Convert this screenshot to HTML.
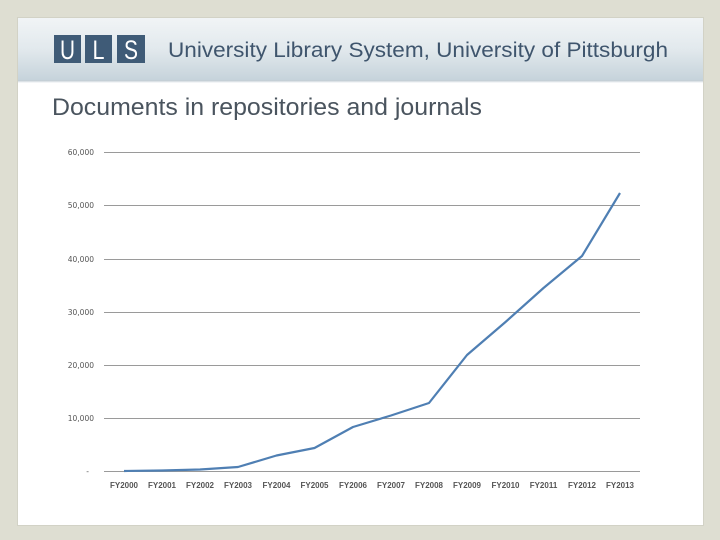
<!DOCTYPE html>
<html><head><meta charset="utf-8"><style>
html,body{margin:0;padding:0;background:#deded2;}
svg{display:block;}
</style></head><body>
<svg width="720" height="540" viewBox="0 0 720 540" xmlns="http://www.w3.org/2000/svg" font-family="Liberation Sans, sans-serif">
<defs>
<linearGradient id="hg" x1="0" y1="0" x2="0" y2="1">
<stop offset="0" stop-color="#f1f4f6"/>
<stop offset="0.5" stop-color="#e2e9ed"/>
<stop offset="1" stop-color="#c6d3db"/>
</linearGradient>
<linearGradient id="sh" x1="0" y1="0" x2="0" y2="1">
<stop offset="0" stop-color="#b9c6ce"/>
<stop offset="1" stop-color="#ffffff"/>
</linearGradient>
</defs>
<rect x="0" y="0" width="720" height="540" fill="#deded2"/>
<rect x="17" y="17" width="687" height="509" fill="#d2d2c6"/>
<rect x="18" y="18" width="685" height="507" fill="#ffffff"/>
<rect x="18" y="18" width="685" height="62" fill="url(#hg)"/>
<rect x="18" y="80" width="685" height="3" fill="url(#sh)"/>
<!-- ULS boxes -->
<rect x="54" y="35" width="27" height="28" fill="#3f5b77"/>
<rect x="85" y="35" width="27" height="28" fill="#3f5b77"/>
<rect x="117" y="35" width="28" height="28" fill="#3f5b77"/>
<text x="67.5" y="59" font-size="27" fill="#ffffff" text-anchor="middle" textLength="15" lengthAdjust="spacingAndGlyphs">U</text>
<text x="98.5" y="59" font-size="27" fill="#ffffff" text-anchor="middle" textLength="12" lengthAdjust="spacingAndGlyphs">L</text>
<text x="131" y="59" font-size="27" fill="#ffffff" text-anchor="middle" textLength="14" lengthAdjust="spacingAndGlyphs">S</text>
<text x="168" y="57" font-size="21" fill="#3f556d" textLength="500" lengthAdjust="spacingAndGlyphs">University Library System, University of Pittsburgh</text>
<text x="52" y="115" font-size="24" fill="#4a545e" textLength="430" lengthAdjust="spacingAndGlyphs">Documents in repositories and journals</text>
<!-- gridlines -->
<g stroke="#9a9a9a" stroke-width="1">
<line x1="104" y1="152.5" x2="640" y2="152.5"/>
<line x1="104" y1="205.5" x2="640" y2="205.5"/>
<line x1="104" y1="259.5" x2="640" y2="259.5"/>
<line x1="104" y1="312.5" x2="640" y2="312.5"/>
<line x1="104" y1="365.5" x2="640" y2="365.5"/>
<line x1="104" y1="418.5" x2="640" y2="418.5"/>
<line x1="104" y1="471.5" x2="640" y2="471.5"/>
</g>
<g font-size="7.5" fill="#555" text-anchor="end" font-family="DejaVu Sans, sans-serif">
<text x="94" y="155">60,000</text>
<text x="94" y="208">50,000</text>
<text x="94" y="262">40,000</text>
<text x="94" y="315">30,000</text>
<text x="94" y="368">20,000</text>
<text x="94" y="421">10,000</text>
<text x="89" y="474">-</text>
</g>
<g font-size="8" fill="#555" text-anchor="middle" font-weight="bold">
<text x="124" y="488">FY2000</text>
<text x="162" y="488">FY2001</text>
<text x="200" y="488">FY2002</text>
<text x="238" y="488">FY2003</text>
<text x="276.5" y="488">FY2004</text>
<text x="314.5" y="488">FY2005</text>
<text x="353" y="488">FY2006</text>
<text x="391" y="488">FY2007</text>
<text x="429" y="488">FY2008</text>
<text x="467" y="488">FY2009</text>
<text x="505.5" y="488">FY2010</text>
<text x="543.5" y="488">FY2011</text>
<text x="582" y="488">FY2012</text>
<text x="620" y="488">FY2013</text>
</g>
<polyline fill="none" stroke="#4f7fb3" stroke-width="2.2" stroke-linejoin="round" points="124,471 162,470.5 200,469.5 238,467 276.5,455.5 314.5,448 353,427 391,415.5 429,403 467,355 505.5,322 543.5,288 582,256 620,193"/>
</svg>
</body></html>
